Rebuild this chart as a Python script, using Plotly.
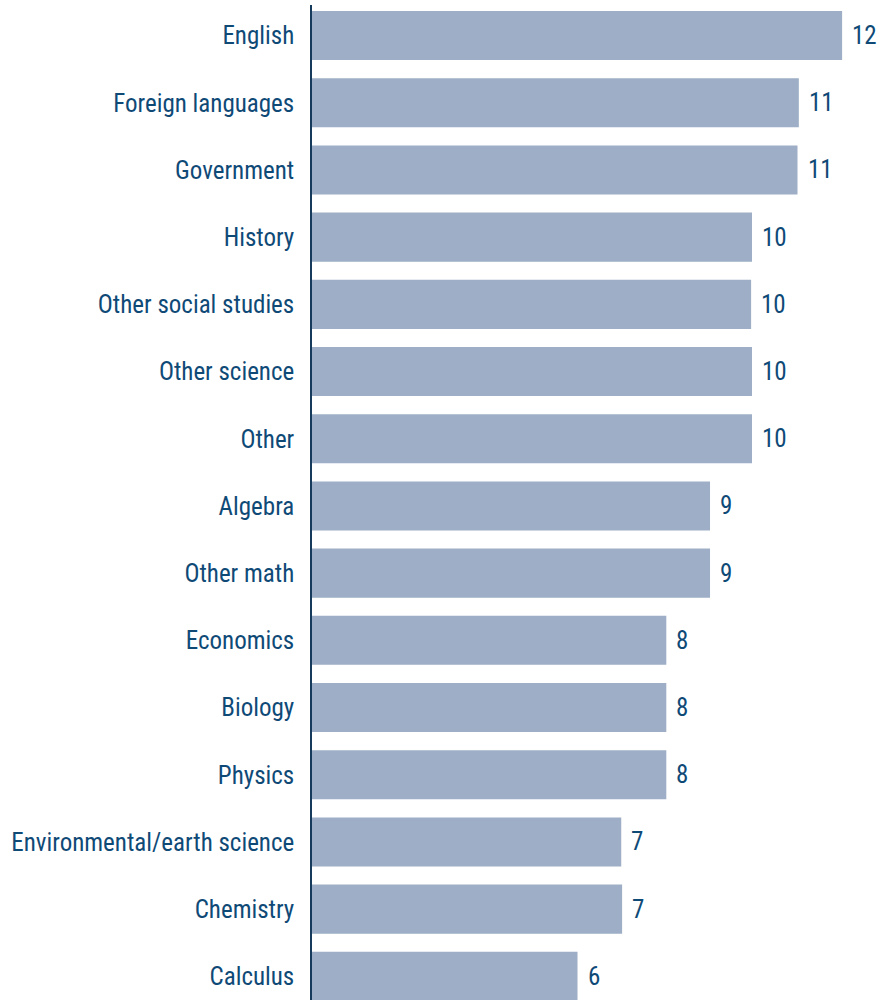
import plotly.graph_objects as go

categories = ["English", "Foreign languages", "Government", "History", "Other social studies",
              "Other science", "Other", "Algebra", "Other math", "Economics", "Biology",
              "Physics", "Environmental/earth science", "Chemistry", "Calculus"]
values = [12.0, 11.02, 10.99, 9.96, 9.94, 9.96, 9.96, 9.01, 9.01, 8.02, 8.02, 8.02, 7.0, 7.02, 6.01]
labels = ["12", "11", "11", "10", "10", "10", "10", "9", "9", "8", "8", "8", "7", "7", "6"]

FONT = "Roboto Condensed, Roboto, sans-serif"
TXT = "#0f4a77"
SIZE = 25

fig = go.Figure(go.Bar(
    x=values, y=categories, orientation="h",
    marker=dict(color="#9daec6", line=dict(width=0)),
    width=0.73,
))
for c, v, t in zip(categories, values, labels):
    fig.add_annotation(x=v, y=c, xref="x", yref="y", text=t, showarrow=False,
                       xanchor="left", yanchor="middle", xshift=8,
                       font=dict(family=FONT, size=SIZE, color=TXT))
fig.update_layout(
    width=881, height=1000,
    margin=dict(l=312, r=0, t=5, b=0),
    plot_bgcolor="white", paper_bgcolor="white",
    showlegend=False,
    font=dict(family=FONT, size=SIZE, color=TXT),
    xaxis=dict(range=[0, 12.88], visible=False, showgrid=False, zeroline=False),
    yaxis=dict(range=[14.352, -0.4546], showgrid=False, zeroline=False, automargin=False,
               showline=True, linecolor="#163a5c", linewidth=1.5,
               ticks="", ticklabelstandoff=11,
               tickfont=dict(family=FONT, size=SIZE, color=TXT)),
)
fig.write_html("out.html")
